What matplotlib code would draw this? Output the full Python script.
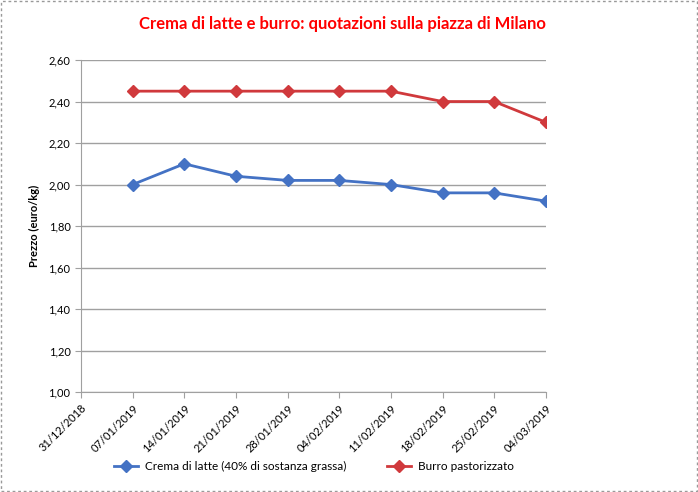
import matplotlib.pyplot as plt
from matplotlib.patches import Rectangle

date = ['31/12/2018', '07/01/2019', '14/01/2019', '21/01/2019', '28/01/2019',
        '04/02/2019', '11/02/2019', '18/02/2019', '25/02/2019', '04/03/2019']
crema = [None, 2.00, 2.10, 2.04, 2.02, 2.02, 2.00, 1.96, 1.96, 1.92]
burro = [None, 2.45, 2.45, 2.45, 2.45, 2.45, 2.45, 2.40, 2.40, 2.30]

plt.rcParams['font.family'] = ['Lato', 'DejaVu Sans']

fig = plt.figure(figsize=(6.98, 4.92), dpi=100)
ax = fig.add_axes([0.116, 0.203, 0.666, 0.675])

x = [i for i, v in enumerate(crema) if v is not None]
ax.plot(x, [crema[i] for i in x], color='#4472C4', lw=2, marker='D', ms=6.5,
        label='Crema di latte (40% di sostanza grassa)')
ax.plot(x, [burro[i] for i in x], color='#D0393C', lw=2, marker='D', ms=6.5,
        label='Burro pastorizzato')

ax.set_ylim(1.0, 2.6)
ax.set_yticks([1.0 + 0.2 * k for k in range(9)])
ax.set_yticklabels([f'{1.0 + 0.2 * k:.2f}'.replace('.', ',') for k in range(9)], fontsize=8)
ax.set_xlim(0, len(date) - 1)
ax.set_xticks(range(len(date)))
ax.set_xticklabels(date, rotation=45, ha='right', rotation_mode='anchor', fontsize=8)
ax.grid(axis='y', color='#A0A0A0', lw=1)
ax.set_axisbelow(True)
for s in ['top', 'right']:
    ax.spines[s].set_visible(False)
for s in ['left', 'bottom']:
    ax.spines[s].set_color('#A0A0A0')
ax.tick_params(color='#A0A0A0', length=4, direction='out')
ax.set_ylabel('Prezzo (euro/kg)', fontsize=8, fontweight='bold', labelpad=6)

fig.text(0.49, 0.952, 'Crema di latte e burro: quotazioni sulla piazza di Milano',
         ha='center', va='center', color='#FF0000', fontsize=12, fontweight='bold')
fig.legend(loc='center', bbox_to_anchor=(0.45, 0.052), ncol=2, frameon=False,
           fontsize=8.5, columnspacing=3.5, handlelength=2, handletextpad=0.6)

fig.patches.append(Rectangle((0.002, 0.002), 0.996, 0.996, transform=fig.transFigure,
                             fill=False, ec='#999999', lw=1, ls=(0, (2, 2))))

fig.savefig('out.png', dpi=100)
